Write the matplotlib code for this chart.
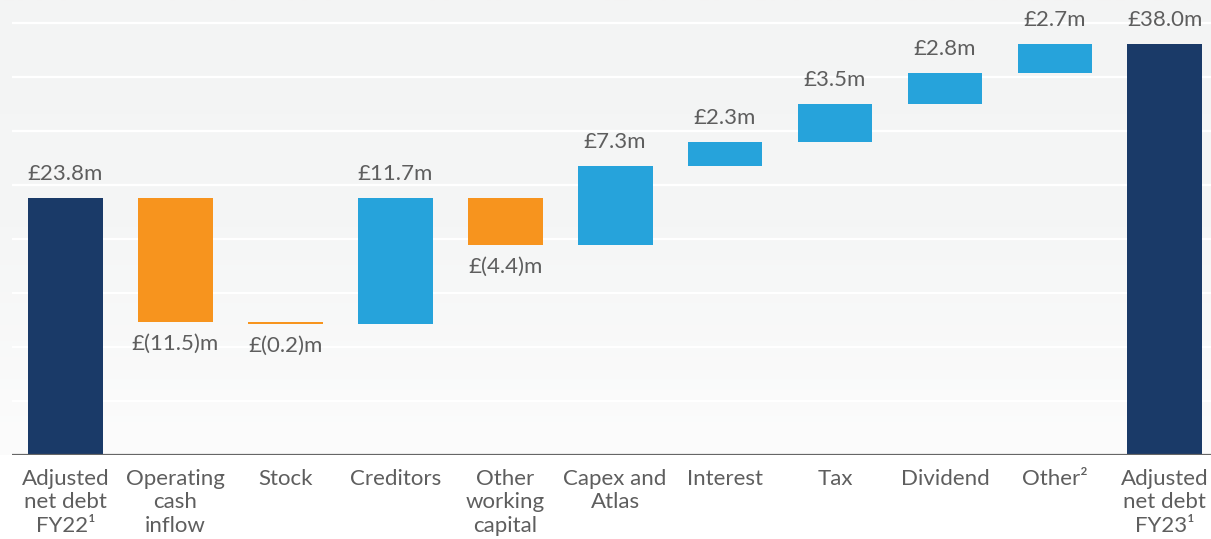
import matplotlib.pyplot as plt
import numpy as np
from matplotlib.colors import LinearSegmentedColormap

# ── Data ─────────────────────────────────────────────────────────────────────
categories = ['Adjusted\nnet debt\nFY22\u00b9', 'Operating\ncash\ninflow', 'Stock',
              'Creditors', 'Other\nworking\ncapital', 'Capex and\nAtlas', 'Interest',
              'Tax', 'Dividend', 'Other\u00b2', 'Adjusted\nnet debt\nFY23\u00b9']
changes = [23.8, -11.5, -0.2, 11.7, -4.4, 7.3, 2.3, 3.5, 2.8, 2.7, 38.0]
kinds = ['total', 'step', 'step', 'step', 'step', 'step', 'step', 'step', 'step', 'step', 'total']
value_labels = ['£23.8m', '£(11.5)m', '£(0.2)m', '£11.7m', '£(4.4)m', '£7.3m',
                '£2.3m', '£3.5m', '£2.8m', '£2.7m', '£38.0m']

NAVY = '#1a3a68'
ORANGE = '#f7941e'
BLUE = '#26a3db'
TEXT = '#5e5e5e'

plt.rcParams['font.family'] = ['Lato', 'DejaVu Sans']

W, H = 12.11, 5.39
fig = plt.figure(figsize=(W, H), dpi=100, facecolor='white')

# background gradient (light grey at top fading to white at the baseline)
bg = fig.add_axes([0, 0, 1, 1], zorder=0)
bg.axis('off')
cmap = LinearSegmentedColormap.from_list('bg', ['#f3f4f4', '#f5f6f6', '#fcfcfc'])
grad = np.linspace(0, 1, 256).reshape(-1, 1)
bg.imshow(grad, aspect='auto', cmap=cmap, extent=[0, 1, 84 / 539, 1])
bg.axhspan(0, 84 / 539, color='white')
bg.set_xlim(0, 1)
bg.set_ylim(0, 1)

ax = fig.add_axes([12 / 1211, 84 / 539, 1 - 12 / 1211, 455 / 539], zorder=1)
ax.patch.set_alpha(0)

x = np.arange(len(categories))
bottoms, heights, colors = [], [], []
running = 0.0
for c, k in zip(changes, kinds):
    if k == 'total':
        bottoms.append(0)
        heights.append(c)
        colors.append(NAVY)
        running = c
    else:
        new = running + c
        bottoms.append(min(running, new))
        heights.append(abs(c))
        colors.append(ORANGE if c < 0 else BLUE)
        running = new

ax.bar(x, heights, bottom=bottoms, width=0.68, color=colors, zorder=3)

# value labels
for xi, b, h, c, k, lab in zip(x, bottoms, heights, changes, kinds, value_labels):
    if k == 'step' and c < 0:
        ax.text(xi, b - 1.1, lab, ha='center', va='top', fontsize=16, color=TEXT)
    else:
        ax.text(xi, b + h + 1.3, lab, ha='center', va='bottom', fontsize=16, color=TEXT)

ax.set_xlim(-0.487, 10.42)
ax.set_ylim(0, 42.1)

for gy in range(5, 45, 5):
    ax.axhline(gy, color='white', lw=1.6, zorder=1)
ax.axhline(0, color='#666666', lw=1.6, zorder=4)

ax.set_xticks(x)
ax.set_xticklabels(categories, fontsize=16, color=TEXT, linespacing=1.22)
ax.tick_params(axis='x', length=0, pad=10)
ax.set_yticks([])
for s in ax.spines.values():
    s.set_visible(False)

fig.savefig('out.png', dpi=100, facecolor='white')
